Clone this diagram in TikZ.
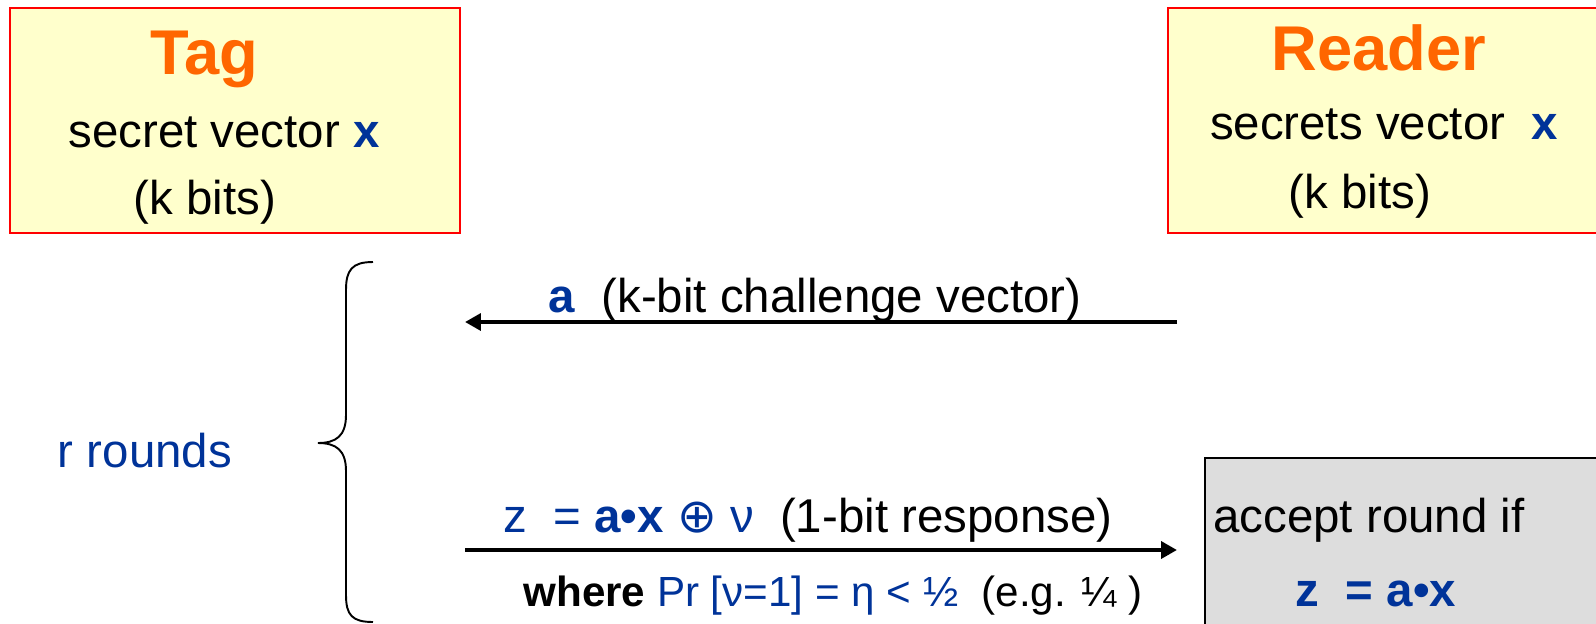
\documentclass[tikz,border=0pt]{standalone}
\usepackage{fontspec}
\setmainfont{Liberation Sans}
\newfontfamily\symfont{DejaVu Sans}
\usetikzlibrary{arrows.meta}
\definecolor{tagorange}{HTML}{FF6600}
\definecolor{keyblue}{HTML}{003399}
\definecolor{boxyellow}{HTML}{FFFFCC}
\definecolor{boxgray}{HTML}{DDDDDD}
\tikzset{
  party/.style={draw=red, fill=boxyellow, line width=1.2pt, minimum height=4.5cm},
  check/.style={draw=black, fill=boxgray, line width=1.2pt},
  title/.style={font=\fontsize{36}{40}\selectfont\bfseries, text=tagorange},
  body/.style={font=\fontsize{27}{30}\selectfont, inner sep=0pt},
  small/.style={font=\fontsize{24}{28}\selectfont, inner sep=0pt},
  msg/.style={line width=2.2pt, -{Triangle[length=9pt,width=9.5pt]}}
}
\begin{document}
\begin{tikzpicture}[x=0.02cm, y=-0.02cm]

    \useasboundingbox (0,0) rectangle (1596,623);

    % 1. Tag and Reader boxes
    \node[party, minimum width=9cm] (tag) at (235,120.5) {};
    \node[party, minimum width=8.84cm] (reader) at (1389,120.5) {};

    \node[title] (tagname) at (204,59) {Tag};
    \node[body] (tagsecret) at (224,132) {secret vector \textcolor{keyblue}{\textbf{x}}};
    \node[body] (tagbits) at (205,202) {(k bits)};

    \node[title] (readername) at (1379,48) {Reader};
    \node[body] (readersecret) at (1384,124) {secrets vector\ \ \textcolor{keyblue}{\textbf{x}}};
    \node[body] (readerbits) at (1360,196) {(k bits)};

    % 2. Challenge and response
    \coordinate (chalR) at (1177,322);
    \coordinate (chalT) at (465,322);
    \draw[msg] (chalR) -- (chalT);
    \node[body] (chal) at (815,300) {\textcolor{keyblue}{\textbf{a}}\ \ (k-bit challenge vector)};

    \coordinate (respT) at (465,550);
    \coordinate (respR) at (1177,550);
    \draw[msg] (respT) -- (respR);
    \node[body] (resp) at (808,520)
        {{\color{keyblue}z\ \ = \textbf{a•x} {\symfont ⊕} ν}\ \ (1-bit response)};
    \node[small] (noise) at (833,596)
        {\textbf{where} {\color{keyblue}Pr [ν=1] = η < ½}\ \ (e.g. ¼ )};

    % 3. Brace for the rounds
    \draw[line width=1.1pt] (373,262) .. controls (352,262) and (346,270) .. (346,290)
        -- (346,415) .. controls (346,436) and (336,443) .. (318,443)
        .. controls (336,443) and (346,450) .. (346,471)
        -- (346,595) .. controls (346,615) and (352,622) .. (373,622);
    \node[body, text=keyblue] (rounds) at (145,451) {r rounds};

    % 4. Check at the reader
    \node[check, minimum width=8.1cm, minimum height=3.64cm] (accept) at (1407.5,549) {};
    \node[body, anchor=west] (acctext) at (1213,520) {accept round if};
    \node[body, text=keyblue] (acctest) at (1376,594) {\textbf{z\ \ = a•x}};

\end{tikzpicture}
\end{document}
